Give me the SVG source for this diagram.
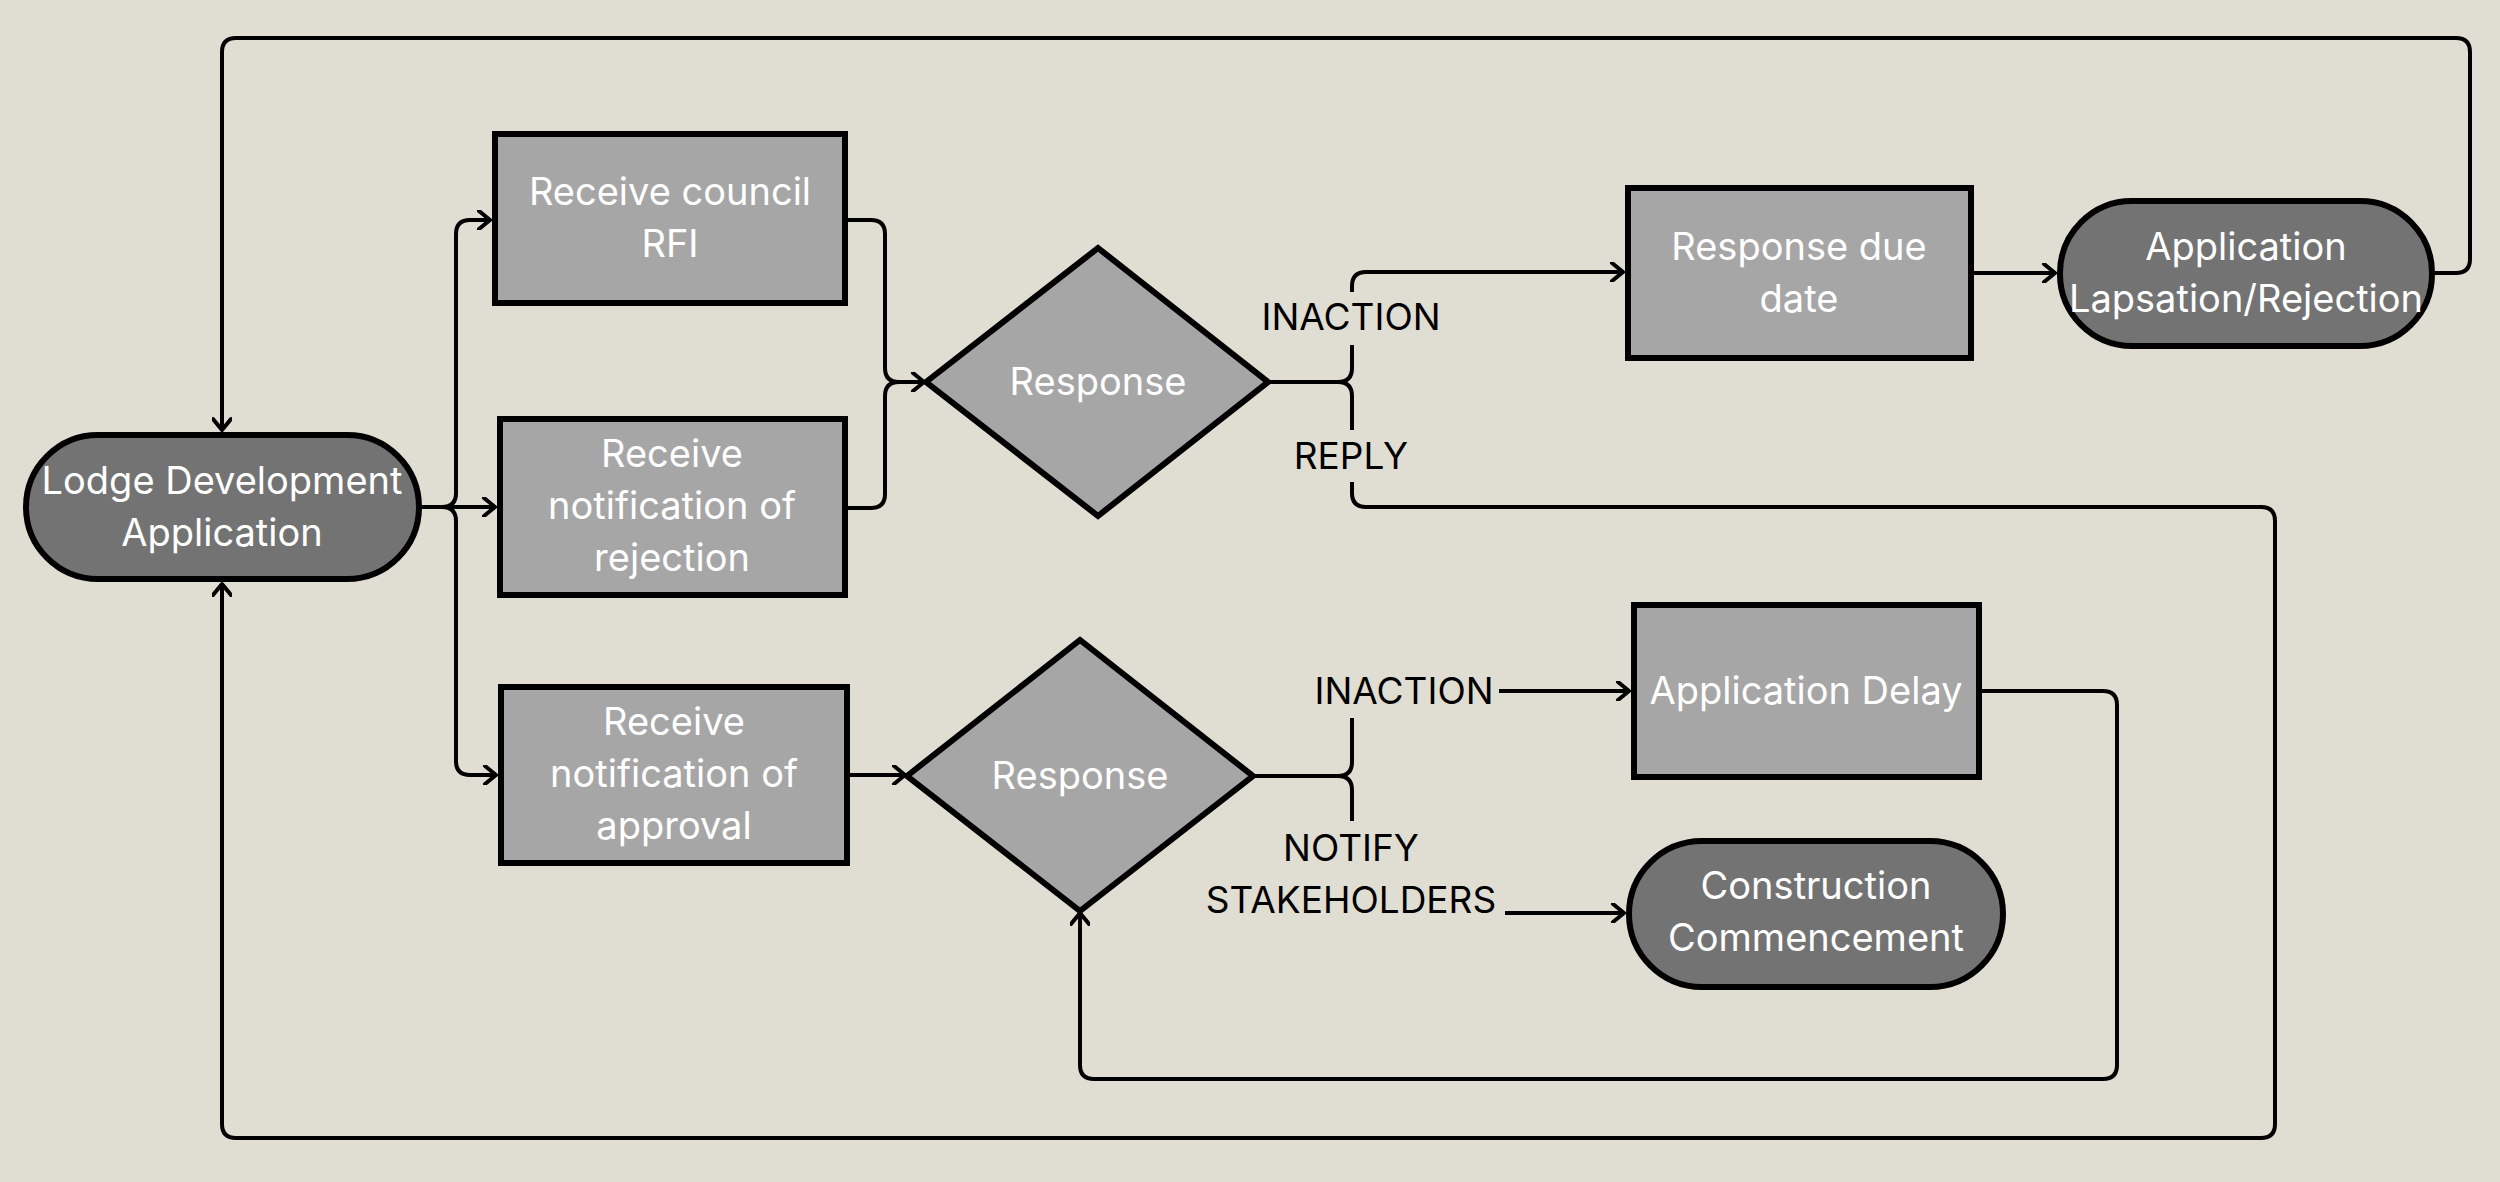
<svg xmlns="http://www.w3.org/2000/svg" width="2500" height="1182" viewBox="0 0 2500 1182">
<style>
.bg{fill:#e0ddd3}
.box{fill:#a6a6a6;stroke:#000;stroke-width:6}
.pill{fill:#737373;stroke:#000;stroke-width:6}
.nt{font-family:Inter,"Noto Sans","Liberation Sans",sans-serif;font-size:38px;fill:#fff;text-anchor:middle}
.lb{font-family:Inter,"Noto Sans","Liberation Sans",sans-serif;font-size:37px;fill:#000;text-anchor:middle}
.c{fill:none;stroke:#000;stroke-width:4;stroke-linejoin:round}
.a{marker-end:url(#arr)}
</style>
<defs>
<marker id="arr" markerUnits="userSpaceOnUse" viewBox="0 0 20 20" markerWidth="20" markerHeight="20" refX="16" refY="10" orient="auto">
<path d="M5,1 L16,10 L5,19" fill="none" stroke="#000" stroke-width="4" stroke-linecap="round" stroke-linejoin="round"/>
</marker>
</defs>
<rect class="bg" x="0" y="0" width="2500" height="1182"/>

<g id="connectors">
<path class="c a" d="M2435,273 H2456 Q2470,273 2470,259 V52 Q2470,38 2456,38 H236 Q222,38 222,52 V430"/>
<path class="c a" d="M422,507 H442 Q456,507 456,493 V234 Q456,220 470,220 H490"/>
<path class="c a" d="M422,507 H495"/>
<path class="c a" d="M442,507 Q456,507 456,521 V761 Q456,775 470,775 H496"/>
<path class="c" d="M848,220 H871 Q885,220 885,234 V368 Q885,382 899,382"/>
<path class="c a" d="M848,508 H871 Q885,508 885,494 V396 Q885,382 899,382 H924"/>
<path class="c a" d="M850,775 H905"/>
<path class="c" d="M1268,382 H1338 Q1352,382 1352,368 V345"/>
<path class="c a" d="M1352,292 V286 Q1352,272 1366,272 H1623"/>
<path class="c" d="M1338,382 Q1352,382 1352,396 V430"/>
<path class="c a" d="M1352,482 V493 Q1352,507 1366,507 H2261 Q2275,507 2275,521 V1124 Q2275,1138 2261,1138 H236 Q222,1138 222,1124 V584"/>
<path class="c a" d="M1974,273 H2055"/>
<path class="c" d="M1253,776 H1338 Q1352,776 1352,762 V718"/>
<path class="c a" d="M1499,691 H1629"/>
<path class="c" d="M1338,776 Q1352,776 1352,790 V821"/>
<path class="c a" d="M1505,913 H1624"/>
<path class="c a" d="M1982,691 H2103 Q2117,691 2117,705 V1065 Q2117,1079 2103,1079 H1094 Q1080,1079 1080,1065 V913"/>
<text class="lb" x="1351" y="330">INACTION</text>
<text class="lb" x="1351" y="469">REPLY</text>
<text class="lb" x="1404" y="704">INACTION</text>
<text class="lb" x="1351" y="861">NOTIFY</text>
<text class="lb" x="1351" y="913">STAKEHOLDERS</text>
</g>

<g id="lodge">
<rect class="pill" x="26" y="435" width="393" height="144" rx="72"/>
<text class="nt" x="222" y="494">Lodge Development</text>
<text class="nt" x="222" y="546">Application</text>
</g>
<g id="rfi">
<rect class="box" x="495" y="134" width="350" height="169"/>
<text class="nt" x="670" y="205">Receive council</text>
<text class="nt" x="670" y="257">RFI</text>
</g>
<g id="rejection">
<rect class="box" x="500" y="419" width="345" height="176"/>
<text class="nt" x="672" y="467">Receive</text>
<text class="nt" x="672" y="519">notification of</text>
<text class="nt" x="672" y="571">rejection</text>
</g>
<g id="approval">
<rect class="box" x="501" y="687" width="346" height="176"/>
<text class="nt" x="674" y="735">Receive</text>
<text class="nt" x="674" y="787">notification of</text>
<text class="nt" x="674" y="839">approval</text>
</g>
<g id="response1">
<polygon class="box" points="926,382 1098,248 1268,382 1098,516"/>
<text class="nt" x="1098" y="395">Response</text>
</g>
<g id="response2">
<polygon class="box" points="907,776 1080,640 1253,776 1080,911"/>
<text class="nt" x="1080" y="789">Response</text>
</g>
<g id="duedate">
<rect class="box" x="1628" y="188" width="343" height="170"/>
<text class="nt" x="1799" y="260">Response due</text>
<text class="nt" x="1799" y="312">date</text>
</g>
<g id="lapsation">
<rect class="pill" x="2060" y="201" width="372" height="145" rx="72"/>
<text class="nt" x="2246" y="260">Application</text>
<text class="nt" x="2246" y="312">Lapsation/Rejection</text>
</g>
<g id="delay">
<rect class="box" x="1634" y="605" width="345" height="172"/>
<text class="nt" x="1806" y="704">Application Delay</text>
</g>
<g id="construction">
<rect class="pill" x="1629" y="841" width="374" height="146" rx="73"/>
<text class="nt" x="1816" y="899">Construction</text>
<text class="nt" x="1816" y="951">Commencement</text>
</g>
</svg>
